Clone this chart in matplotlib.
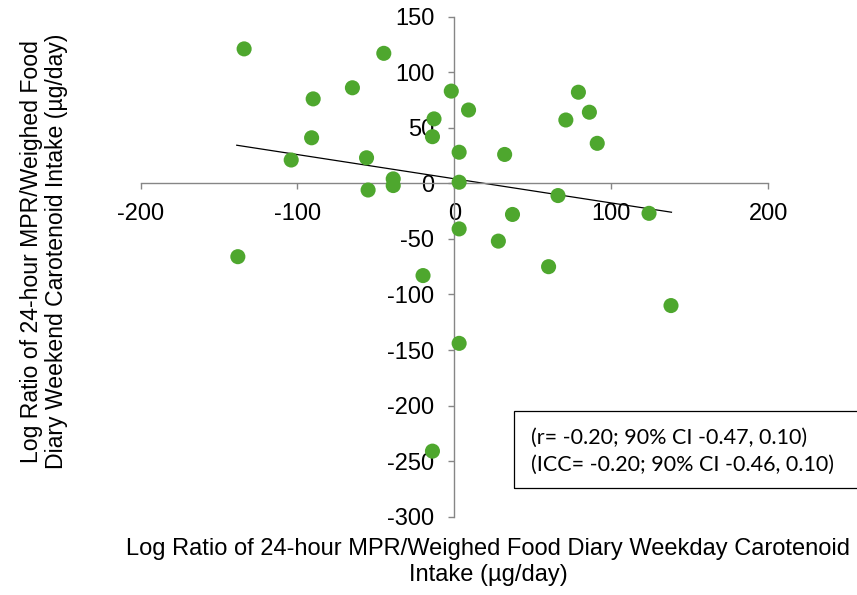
import matplotlib
matplotlib.use("Agg")
import matplotlib.pyplot as plt
from matplotlib.patches import Rectangle

# log ratio weekday (x) vs weekend (y)
weekday = [-134, -45, -65, -90, -2, 9, -13, -14, -91, 3, -56, -104, -39, -39, -55, 3,
           79, 86, 71, 91, 32, 66, 124, 37, 3, 28, 60, -20, 138, -138, 3, -14]
weekend = [121, 117, 86, 76, 83, 66, 58, 42, 41, 28, 23, 21, 4, -2, -6, 1,
           82, 64, 57, 36, 26, -11, -27, -28, -41, -52, -75, -83, -110, -66, -144, -241]
trend_x = [-138.7, 138.3]
trend_y = [34.3, -26.0]
stats_lines = ["(r= -0.20; 90% CI -0.47, 0.10)", "(ICC= -0.20; 90% CI -0.46, 0.10)"]

plt.rcParams["font.family"] = ["Liberation Sans", "DejaVu Sans"]
plt.rcParams["axes.unicode_minus"] = False
GREEN = "#4ea72e"
GRAY = "#868686"

fig = plt.figure(figsize=(8.57, 5.95), dpi=100)
ax = fig.add_axes([0.164, 0.1316, 0.7325, 0.8404])

ax.scatter(weekday, weekend, s=118, color=GREEN, edgecolors="none", zorder=3)
ax.plot(trend_x, trend_y, color="black", lw=0.9, zorder=2)

ax.set_xlim(-200, 200); ax.set_ylim(-300, 150)
ax.set_xticks([-200, -100, 0, 100, 200])
ax.set_yticks(range(-300, 151, 50))
for s in ("top", "right"):
    ax.spines[s].set_visible(False)
for s in ("left", "bottom"):
    ax.spines[s].set_position(("data", 0))
    ax.spines[s].set_color(GRAY)
    ax.spines[s].set_linewidth(1.0)
ax.tick_params(axis="both", direction="out", length=4.5, width=1.0, color=GRAY,
               labelsize=17, labelcolor="black")
ax.tick_params(axis="x", pad=10)
ax.tick_params(axis="y", pad=10)

fig.text(0.570, 0.0555, "Log Ratio of 24-hour MPR/Weighed Food Diary Weekday Carotenoid\nIntake (\u00b5g/day)",
         ha="center", va="center", fontsize=17, linespacing=1.25)
fig.text(0.051, 0.578, "Log Ratio of 24-hour MPR/Weighed Food\nDiary Weekend Carotenoid Intake (\u00b5g/day)",
         ha="center", va="center", rotation=90, fontsize=16.6, linespacing=1.1)

fig.patches.append(Rectangle((514 / 857, 1 - 488 / 595), 0.41, 77 / 595, transform=fig.transFigure,
                             fill=False, edgecolor="black", lw=0.9))
for i, line in enumerate(stats_lines):
    fig.text(531 / 857, 1 - (438 + 27 * i) / 595, line, ha="left", va="center",
             fontsize=15.5, family=["Lato", "DejaVu Sans"])

fig.savefig("out.png", dpi=100)
